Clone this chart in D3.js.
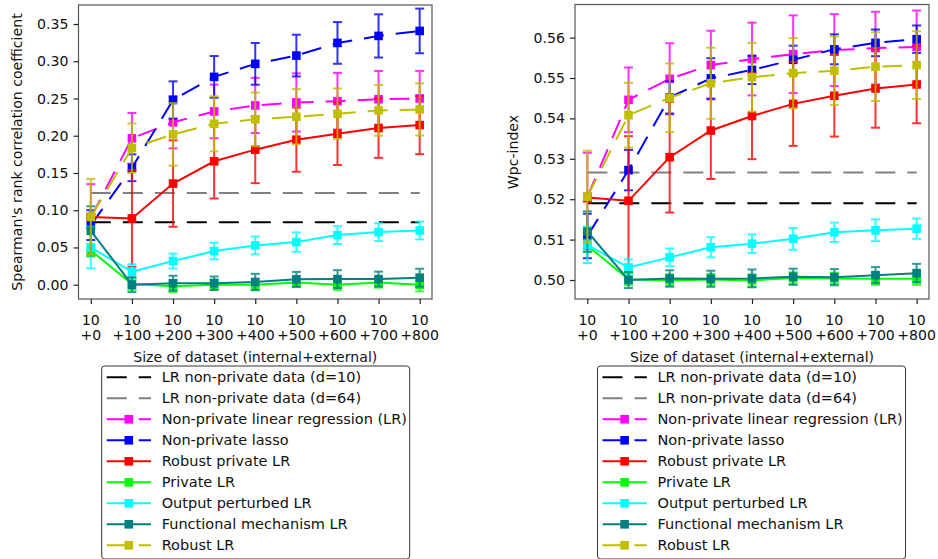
<!DOCTYPE html>
<html>
<head>
<meta charset="utf-8">
<script src="https://d3js.org/d3.v7.min.js"></script>
<style>
  body { margin: 0; background: #fff; }
  svg text { font-family: "DejaVu Sans", sans-serif; font-size: 14.1px; fill: #111; }
</style>
</head>
<body>
<svg id="fig" width="938" height="559"></svg>
<script>
// x categories (two-line tick labels)
var tickTop = ["10","10","10","10","10","10","10","10","10"];
var tickBottom = ["+0","+100","+200","+300","+400","+500","+600","+700","+800"];

// legend names
var names = ["LR non-private data (d=10)", "LR non-private data (d=64)",
  "Non-private linear regression (LR)", "Non-private lasso", "Robust private LR",
  "Private LR", "Output perturbed LR", "Functional mechanism LR", "Robust LR"];

// ---- left panel: Spearman's rank correlation coefficient
var spRefD10 = 0.0840;
var spRefD64 = 0.1232;
var spNonPrivLR    = [0.090, 0.1965, 0.218, 0.2326, 0.2407, 0.2447, 0.2464, 0.249, 0.250];
var spNonPrivLRErr = [0.045, 0.034, 0.035, 0.036, 0.037, 0.039, 0.038, 0.038, 0.037];
var spLasso        = [0.080, 0.157, 0.248, 0.279, 0.2965, 0.3076, 0.3246, 0.334, 0.3407];
var spLassoErr     = [0.020, 0.018, 0.025, 0.028, 0.028, 0.028, 0.028, 0.029, 0.030];
var spRobPriv      = [0.091, 0.089, 0.1358, 0.1657, 0.1813, 0.1947, 0.2027, 0.2103, 0.2143];
var spRobPrivErr   = [0.004, 0.065, 0.058, 0.050, 0.045, 0.043, 0.042, 0.040, 0.039];
var spPrivate      = [0.046, 0.001, -0.002, 0.000, 0.000, 0.003, 0.000, 0.003, 0.000];
var spPrivateErr   = [0.008, 0.008, 0.008, 0.007, 0.007, 0.006, 0.007, 0.007, 0.009];
var spOutput       = [0.050, 0.0174, 0.0317, 0.0451, 0.0527, 0.0572, 0.0666, 0.0706, 0.0728];
var spOutputErr    = [0.028, 0.010, 0.010, 0.011, 0.012, 0.013, 0.012, 0.012, 0.012];
var spFunc         = [0.0723, 0.000, 0.002, 0.002, 0.0036, 0.0072, 0.0075, 0.0075, 0.0094];
var spFuncErr      = [0.033, 0.010, 0.010, 0.009, 0.011, 0.010, 0.012, 0.010, 0.012];
var spRobust       = [0.091, 0.1835, 0.2018, 0.216, 0.222, 0.2255, 0.2295, 0.234, 0.2353];
var spRobustErr    = [0.051, 0.033, 0.042, 0.037, 0.036, 0.037, 0.034, 0.034, 0.035];
var spTicks = [0.00, 0.05, 0.10, 0.15, 0.20, 0.25, 0.30, 0.35];

// ---- right panel: Wpc-index
var wpRefD10 = 0.5190;
var wpRefD64 = 0.5266;
var wpNonPrivLR    = [0.5205, 0.5446, 0.5498, 0.5532, 0.5547, 0.5559, 0.5569, 0.5574, 0.5577];
var wpNonPrivLRErr = [0.011, 0.008, 0.0088, 0.0085, 0.009, 0.0096, 0.0089, 0.009, 0.009];
var wpLasso        = [0.5109, 0.5272, 0.5452, 0.5499, 0.552, 0.5545, 0.5571, 0.5587, 0.5596];
var wpLassoErr     = [0.0055, 0.005, 0.004, 0.005, 0.0035, 0.0035, 0.0037, 0.0033, 0.0034];
var wpRobPriv      = [0.5204, 0.5196, 0.5304, 0.537, 0.5406, 0.5436, 0.5456, 0.5474, 0.5484];
var wpRobPrivErr   = [0.001, 0.016, 0.0137, 0.012, 0.0107, 0.0104, 0.0101, 0.0097, 0.0096];
var wpPrivate      = [0.5085, 0.5002, 0.4999, 0.5001, 0.4999, 0.5005, 0.5004, 0.5003, 0.5003];
var wpPrivateErr   = [0.0015, 0.0015, 0.0015, 0.0014, 0.0015, 0.0014, 0.0014, 0.0015, 0.0015];
var wpOutput       = [0.5087, 0.5031, 0.5056, 0.5081, 0.509, 0.5102, 0.5118, 0.5123, 0.5127];
var wpOutputErr    = [0.0045, 0.002, 0.0022, 0.0025, 0.0023, 0.0027, 0.0024, 0.0027, 0.0025];
var wpFunc         = [0.512, 0.500, 0.5004, 0.5003, 0.5004, 0.5008, 0.5007, 0.5012, 0.5017];
var wpFuncErr      = [0.005, 0.002, 0.002, 0.002, 0.0022, 0.002, 0.002, 0.002, 0.0023];
var wpRobust       = [0.5206, 0.5408, 0.5451, 0.5487, 0.5502, 0.5512, 0.5518, 0.5528, 0.5532];
var wpRobustErr    = [0.0114, 0.008, 0.0085, 0.0088, 0.0085, 0.0087, 0.0085, 0.0085, 0.0084];
var wpTicks = [0.50, 0.51, 0.52, 0.53, 0.54, 0.55, 0.56];

var colors = ["#000000", "#808080", "#ff00ff", "#0000ff", "#ff0000", "#00ff00", "#00ffff", "#008080", "#bfbf00"];
var dashed = [true, true, true, true, false, false, false, false, true];
var DASH = "20,12";

var svg = d3.select("#fig");

function panel(opt) {
  var g = svg.append("g");
  var x = d3.scaleLinear().domain([-0.3, 8.3]).range([opt.left, opt.right]);
  var y = d3.scaleLinear().domain(opt.ydom).range(opt.yrange);
  var top = opt.top, bottom = 299;

  // reference lines
  [opt.refs[0], opt.refs[1]].forEach(function(v, k) {
    g.append("path")
      .datum([0, 8])
      .attr("fill", "none")
      .attr("stroke", colors[k])
      .attr("stroke-width", 2)
      .attr("stroke-dasharray", DASH)
      .attr("d", d3.line().x(function(d) { return x(d) }).y(function() { return y(v) }));
  });

  opt.series.forEach(function(s, k) {
    var c = colors[k + 2];
    var idx = d3.range(s.v.length);
    // error bars
    var eb = g.append("g").attr("stroke", c).attr("stroke-width", 2).attr("opacity", 0.8);
    idx.forEach(function(i) {
      var cx = x(i), y0 = y(s.v[i] - s.e[i]), y1 = y(s.v[i] + s.e[i]);
      eb.append("line").attr("x1", cx).attr("x2", cx).attr("y1", y0).attr("y2", y1);
      eb.append("line").attr("x1", cx - 4.5).attr("x2", cx + 4.5).attr("y1", y0).attr("y2", y0);
      eb.append("line").attr("x1", cx - 4.5).attr("x2", cx + 4.5).attr("y1", y1).attr("y2", y1);
    });
    g.append("path")
      .datum(idx)
      .attr("fill", "none")
      .attr("stroke", c)
      .attr("stroke-width", 2)
      .attr("stroke-dasharray", dashed[k + 2] ? DASH : null)
      .attr("d", d3.line().x(function(i) { return x(i) }).y(function(i) { return y(s.v[i]) }));
    g.selectAll(null)
      .data(idx)
      .enter().append("rect")
      .attr("x", function(i) { return x(i) - 4.3 })
      .attr("y", function(i) { return y(s.v[i]) - 4.3 })
      .attr("width", 8.6).attr("height", 8.6)
      .attr("fill", c);
  });

  // frame
  g.append("rect")
    .attr("x", opt.left).attr("y", top)
    .attr("width", opt.right - opt.left).attr("height", bottom - top)
    .attr("fill", "none").attr("stroke", "#555").attr("stroke-width", 1.2);

  // y axis
  var ya = g.append("g")
    .attr("transform", "translate(" + opt.left + ",0)")
    .call(d3.axisLeft(y).tickValues(opt.ticks).tickFormat(d3.format(opt.fmt)).tickSize(5).tickPadding(5));
  ya.select(".domain").remove();
  ya.selectAll("line").attr("stroke", "#222").attr("stroke-width", 1.2);
  ya.selectAll("text").style("font-size", "14.1px").attr("fill", "#111");

  // x axis
  var xa = g.append("g")
    .attr("transform", "translate(0," + bottom + ")")
    .call(d3.axisBottom(x).tickValues(d3.range(9)).tickSize(5).tickFormat(""));
  xa.select(".domain").remove();
  xa.selectAll("line").attr("stroke", "#222").attr("stroke-width", 1.2);
  tickTop.forEach(function(t, i) {
    var tx = g.append("text").attr("x", x(i)).attr("text-anchor", "middle");
    tx.append("tspan").attr("x", x(i)).attr("y", 325).text(t);
    tx.append("tspan").attr("x", x(i)).attr("y", 340).text(tickBottom[i]);
  });

  g.append("text")
    .attr("x", (opt.left + opt.right) / 2).attr("y", 362)
    .attr("text-anchor", "middle")
    .text("Size of dataset (internal+external)");
  g.append("text")
    .attr("transform", "translate(" + opt.ylabX + ",152) rotate(-90)")
    .attr("text-anchor", "middle")
    .text(opt.ylab);

  // legend
  var lg = g.append("g");
  lg.append("rect")
    .attr("x", opt.legX).attr("y", 366)
    .attr("width", 308).attr("height", 193)
    .attr("rx", 3)
    .attr("fill", "#fff").attr("stroke", "#333").attr("stroke-width", 1);
  names.forEach(function(n, k) {
    var cy = 377.3 + k * 21;
    var hx = opt.legX + 5;
    lg.append("line")
      .attr("x1", hx).attr("x2", hx + 44.3).attr("y1", cy).attr("y2", cy)
      .attr("stroke", colors[k]).attr("stroke-width", 2)
      .attr("stroke-dasharray", dashed[k] ? DASH : null);
    if (k >= 2) {
      lg.append("rect")
        .attr("x", hx + 22.1 - 4.3).attr("y", cy - 4.3)
        .attr("width", 8.6).attr("height", 8.6).attr("fill", colors[k]);
    }
    lg.append("text").attr("x", opt.legX + 60).attr("y", cy + 5).style("font-size", "14.5px").text(n);
  });
}

panel({
  left: 78.5, right: 432, top: 5,
  ydom: [0, 0.35], yrange: [284.7, 24],
  ticks: spTicks, fmt: ".2f", refs: [spRefD10, spRefD64],
  series: [
    {v: spNonPrivLR, e: spNonPrivLRErr}, {v: spLasso, e: spLassoErr},
    {v: spRobPriv, e: spRobPrivErr}, {v: spPrivate, e: spPrivateErr},
    {v: spOutput, e: spOutputErr}, {v: spFunc, e: spFuncErr},
    {v: spRobust, e: spRobustErr}
  ],
  ylab: "Spearman's rank correlation coefficient", ylabX: 22,
  legX: 101.7
});

panel({
  left: 575, right: 929, top: 4.5,
  ydom: [0.50, 0.56], yrange: [280, 37.6],
  ticks: wpTicks, fmt: ".2f", refs: [wpRefD10, wpRefD64],
  series: [
    {v: wpNonPrivLR, e: wpNonPrivLRErr}, {v: wpLasso, e: wpLassoErr},
    {v: wpRobPriv, e: wpRobPrivErr}, {v: wpPrivate, e: wpPrivateErr},
    {v: wpOutput, e: wpOutputErr}, {v: wpFunc, e: wpFuncErr},
    {v: wpRobust, e: wpRobustErr}
  ],
  ylab: "Wpc-index", ylabX: 518,
  legX: 597.5
});
</script>
</body>
</html>
